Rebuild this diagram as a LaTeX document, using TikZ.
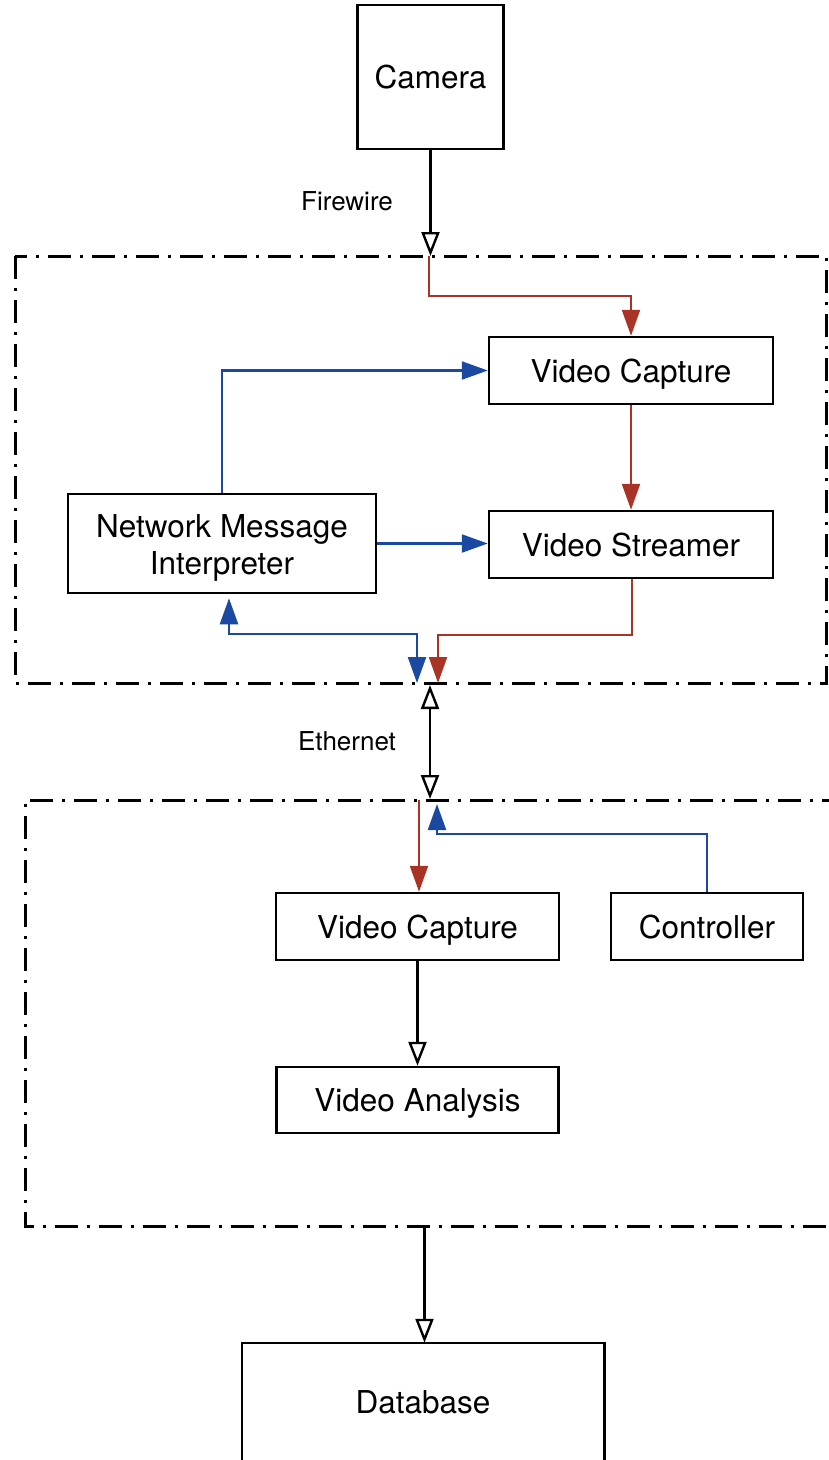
\documentclass[tikz,border=0pt]{standalone}
\usepackage{fontspec}
\setmainfont{TeX Gyre Heros}
\usetikzlibrary{arrows.meta}
\definecolor{flowred}{HTML}{A93426}
\definecolor{ctrlblue}{HTML}{1B48A0}
\begin{document}
\begin{tikzpicture}[x=1pt,y=-1pt,
  boxfont/.style={font=\fontsize{31.5pt}{37pt}\selectfont},
  box/.style={draw, line width=2.5pt, inner sep=0pt, boxfont,
    text height=23pt, text depth=0pt},
  lbl/.style={font=\fontsize{26pt}{30pt}\selectfont, inner sep=0pt},
  group/.style={line width=3pt, dash pattern=on 23pt off 9pt on 3pt off 9pt},
  opentip/.tip={Triangle[open, length=24pt, width=18pt]},
  solidtip/.tip={Triangle[length=26pt, width=18pt]},
  blk/.style={line width=2.4pt, -opentip},
  blkboth/.style={line width=2.4pt, opentip-opentip},
  redflow/.style={draw=flowred, line width=2.3pt, -solidtip},
  blueflow/.style={draw=ctrlblue, line width=2.3pt, -solidtip},
  blueboth/.style={draw=ctrlblue, line width=2.3pt, solidtip-solidtip},
]
\useasboundingbox (0,0) rectangle (829,1460);
\clip (0,0) rectangle (829,1460);

% processing groups
\draw[group] (15,256) rectangle (826,683);
\draw[group] (845,800) -- (25,800) -- (25,1226) -- (845,1226);

% components
\node[box, minimum width=146pt, minimum height=144pt] (camera) at (430.5,77) {Camera};
\node[box, minimum width=284pt, minimum height=67pt] (vc1) at (631,370.5) {Video Capture};
\node[box, minimum width=284pt, minimum height=67pt] (vs) at (631,544.5) {Video Streamer};
\node[draw, line width=2.5pt, inner sep=0pt, minimum width=308pt, minimum height=99pt,
  label={[boxfont, align=center, yshift=-4pt]center:Network Message\\Interpreter}]
  (nmi) at (222,543.5) {};
\node[box, minimum width=283pt, minimum height=67pt] (vc2) at (417.5,926.5) {Video Capture};
\node[box, minimum width=192pt, minimum height=67pt] (ctrl) at (707,926.5) {Controller};
\node[box, minimum width=282pt, minimum height=66pt] (va) at (417.5,1100) {Video Analysis};
\node[box, draw=none, minimum width=360pt, minimum height=116pt] (db) at (423,1402) {Database};
\draw[line width=2.5pt] ([yshift=-10pt]db.south west) -- (db.north west) -- (db.north east) -- ([yshift=-10pt]db.south east);

% link labels
\node[lbl] (fwlbl) at (347,201) {Firewire};
\node[lbl] (ethlbl) at (347,741) {Ethernet};

% connection points on the group borders
\coordinate (fwin) at (430.5,256);
\coordinate (bout) at (417,683);
\coordinate (rout) at (438,683);
\coordinate (ethA) at (430,685);
\coordinate (ethB) at (430,799);
\coordinate (rin) at (419,800);
\coordinate (bin) at (437,804);
\coordinate (grpout) at (424.5,1226);

% external links
\draw[blk] (camera.south) -- (fwin);
\draw[blkboth] (ethA) -- (ethB);
\draw[blk] (grpout) -- (grpout |- db.north);

% video path
\draw[redflow] ([xshift=-1.5pt]fwin) -- ++(0,40) -| (vc1.north);
\draw[redflow] (vc1.south) -- (vs.north);
\draw[redflow] ([xshift=1pt]vs.south) -- ++(0,56) -| (rout);
\draw[redflow] (rin) -- (rin |- vc2.north);
\draw[blk] (vc2.south) -- (va.north);

% control path
\draw[blueflow] (nmi.north) |- (vc1.west);
\draw[blueflow] (nmi.east) -- (nmi.east -| vs.west);
\draw[blueboth] ([xshift=7pt,yshift=-4pt]nmi.south) -- ++(0,36) -| (bout);
\draw[blueflow] (ctrl.north) -- ++(0,-58) -| (bin);
\end{tikzpicture}
\end{document}
